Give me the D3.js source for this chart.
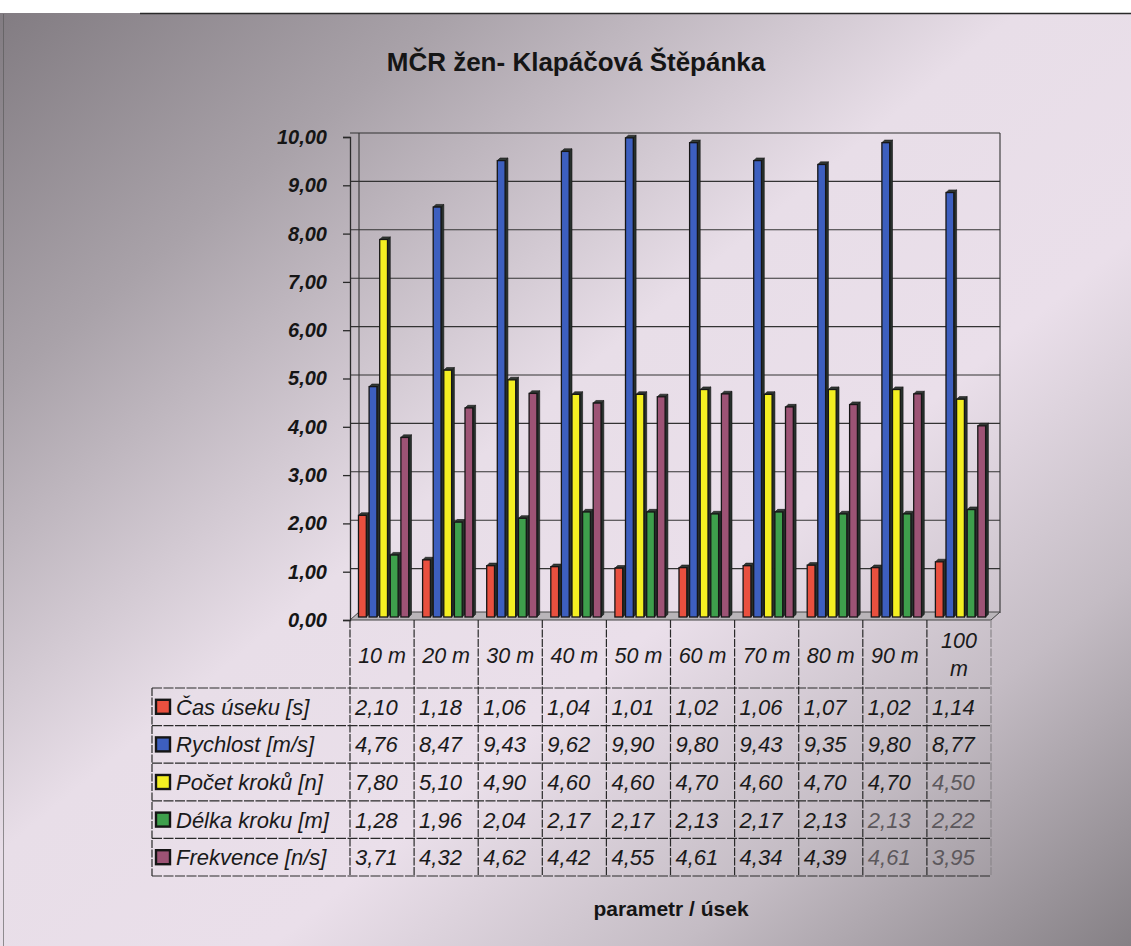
<!DOCTYPE html>
<html>
<head>
<meta charset="utf-8">
<script src="https://cdn.jsdelivr.net/npm/d3@7"></script>
<style>
  html, body { margin: 0; padding: 0; background: #fff; }
  svg { display: block; font-family: "Liberation Sans", Arial, sans-serif; }
</style>
</head>
<body>
<svg id="chart" width="1131" height="946"></svg>
<script>
// Úseky běhu na 100 m
const categories = ["10 m", "20 m", "30 m", "40 m", "50 m", "60 m", "70 m", "80 m", "90 m", "100 m"];
const seriesNames = ["Čas úseku [s]", "Rychlost [m/s]", "Počet kroků [n]", "Délka kroku [m]", "Frekvence [n/s]"];
const casUseku  = [2.10, 1.18, 1.06, 1.04, 1.01, 1.02, 1.06, 1.07, 1.02, 1.14];
const rychlost  = [4.76, 8.47, 9.43, 9.62, 9.90, 9.80, 9.43, 9.35, 9.80, 8.77];
const pocetKroku = [7.80, 5.10, 4.90, 4.60, 4.60, 4.70, 4.60, 4.70, 4.70, 4.50];
const delkaKroku = [1.28, 1.96, 2.04, 2.17, 2.17, 2.13, 2.17, 2.13, 2.13, 2.22];
const frekvence = [3.71, 4.32, 4.62, 4.42, 4.55, 4.61, 4.34, 4.39, 4.61, 3.95];
const yTicks = [0, 1, 2, 3, 4, 5, 6, 7, 8, 9, 10];
const seriesColors = ["#e9503f", "#3d5fbf", "#f4ef22", "#3e9f4c", "#9d5375"];

const seriesValues = [casUseku, rychlost, pocetKroku, delkaKroku, frekvence];
const fmt = v => d3.format(".2f")(v).replace(".", ",");
const FONT = "'Liberation Sans', Arial, sans-serif";

const svg = d3.select("#chart");
const W = 1131, H = 946;

// ---- background ----
const defs = svg.append("defs");
const bg = defs.append("linearGradient").attr("id", "bg")
  .attr("x1", "0").attr("y1", "0").attr("x2", "1").attr("y2", "1");
bg.append("stop").attr("offset", "0").attr("stop-color", "#827c82");
bg.append("stop").attr("offset", "0.2").attr("stop-color", "#a9a2a9");
bg.append("stop").attr("offset", "0.45").attr("stop-color", "#e8dee8");
bg.append("stop").attr("offset", "0.62").attr("stop-color", "#eadfea");
bg.append("stop").attr("offset", "0.8").attr("stop-color", "#c4bcc4");
bg.append("stop").attr("offset", "1").attr("stop-color", "#858085");

svg.append("rect").attr("x", 0).attr("y", 0).attr("width", W).attr("height", H).attr("fill", "#fff");
svg.append("rect").attr("x", 0).attr("y", 13).attr("width", W).attr("height", H - 13).attr("fill", "url(#bg)");
svg.append("line").attr("x1", 140).attr("x2", W).attr("y1", 13.5).attr("y2", 13.5)
  .attr("stroke", "#2a2a2a").attr("stroke-width", 1.5);
svg.append("line").attr("x1", 3.5).attr("x2", 3.5).attr("y1", 14).attr("y2", H)
  .attr("stroke", "#555").attr("stroke-width", 1).attr("opacity", 0.6);

// ---- title ----
svg.append("text").attr("x", 576).attr("y", 71).attr("text-anchor", "middle")
  .attr("font-family", FONT)
  .attr("font-size", 26).attr("font-weight", "bold").attr("fill", "#151515")
  .text("MČR žen- Klapáčová Štěpánka");

// ---- scales ----
const x = d3.scaleBand().domain(categories).range([350, 991]).padding(0);
const xs = d3.scaleBand().domain(d3.range(seriesNames.length)).range([8.5, 61.5]).padding(0);
const y = d3.scaleLinear().domain([0, 10]).range([617, 133]);
const yFront = d3.scaleLinear().domain([0, 10]).range([620, 137]);

const depthX = 9, depthY = 4;   // offset of the back wall
const grid = svg.append("g");

// back wall gridlines and frame
grid.selectAll("line.g").data(yTicks.slice(1)).join("line")
  .attr("x1", 350).attr("x2", 1000)
  .attr("y1", d => y(d)).attr("y2", d => y(d))
  .attr("stroke", "#333").attr("stroke-width", 1.1);
grid.append("line").attr("x1", 1000).attr("x2", 1000).attr("y1", y(10)).attr("y2", y(0) - depthY)
  .attr("stroke", "#333").attr("stroke-width", 1.1);
grid.append("line").attr("x1", 350 + depthX).attr("x2", 350 + depthX).attr("y1", y(10)).attr("y2", y(0) - depthY)
  .attr("stroke", "#333").attr("stroke-width", 1.1);

// floor
grid.append("polygon")
  .attr("points", [[350, 620], [991, 620], [1000, 612], [359, 612]].map(p => p.join(",")).join(" "))
  .attr("fill", "#b9b5b9").attr("stroke", "#444").attr("stroke-width", 1);

// ---- y axis ----
const yAxis = d3.axisLeft(yFront).tickValues(yTicks).tickFormat(fmt).tickSize(7).tickPadding(16);
const ya = svg.append("g").attr("transform", "translate(350,0)").call(yAxis);
ya.select(".domain").attr("stroke", "#2a2a2a").attr("stroke-width", 1.3);
ya.selectAll(".tick line").attr("stroke", "#2a2a2a").attr("stroke-width", 1.3);
ya.selectAll(".tick text").attr("font-size", 20).attr("font-weight", "bold")
  .attr("font-style", "italic").attr("fill", "#151515")
  .attr("font-family", FONT);

// ---- bars ----
const bars = [];
seriesValues.forEach((vals, s) => {
  vals.forEach((v, i) => bars.push({ s, i, v }));
});
const faceW = 7.8, sideW = 2.8, capH = 2.6;
const barG = svg.append("g");
const bar = barG.selectAll("g.bar").data(bars).join("g").attr("class", "bar");
const bx = d => x(categories[d.i]) + xs(d.s);
bar.append("polygon") // dark side face
  .attr("points", d => {
    const x0 = bx(d) + faceW, yt = y(d.v), yb = y(0);
    return [[x0, yt], [x0 + sideW, yt - capH], [x0 + sideW, yb - capH], [x0, yb]].map(p => p.join(",")).join(" ");
  })
  .attr("fill", "#27302c").attr("stroke", "#151515").attr("stroke-width", 0.6);
bar.append("polygon") // top cap
  .attr("points", d => {
    const x0 = bx(d), yt = y(d.v);
    return [[x0, yt], [x0 + sideW, yt - capH], [x0 + faceW + sideW, yt - capH], [x0 + faceW, yt]].map(p => p.join(",")).join(" ");
  })
  .attr("fill", "#333a36").attr("stroke", "#151515").attr("stroke-width", 0.6);
bar.append("rect") // front face
  .attr("x", d => bx(d)).attr("y", d => y(d.v))
  .attr("width", faceW).attr("height", d => y(0) - y(d.v))
  .attr("fill", d => seriesColors[d.s]).attr("stroke", "#161616").attr("stroke-width", 1.3);

// ---- data table ----
const rowTop = 688, rowH = 37.6, headTop = 620, tableLeft = 152;
const tbl = svg.append("g");
const lineCol = "#2a2a2a";
// vertical lines
tbl.selectAll("line.v").data(d3.range(categories.length + 1)).join("line")
  .attr("x1", i => i < categories.length ? x(categories[i]) : 991)
  .attr("x2", i => i < categories.length ? x(categories[i]) : 991)
  .attr("y1", headTop).attr("y2", rowTop + rowH * seriesNames.length)
  .attr("stroke", i => i === categories.length ? "#8a868a" : lineCol)
  .attr("stroke-width", 1.2).attr("stroke-dasharray", "8 1.5");
tbl.append("line").attr("x1", tableLeft).attr("x2", tableLeft)
  .attr("y1", rowTop).attr("y2", rowTop + rowH * seriesNames.length)
  .attr("stroke", lineCol).attr("stroke-width", 1.2).attr("stroke-dasharray", "8 1.5");
// horizontal lines
tbl.selectAll("line.h").data(d3.range(seriesNames.length + 1)).join("line")
  .attr("x1", tableLeft).attr("x2", 991)
  .attr("y1", k => rowTop + k * rowH).attr("y2", k => rowTop + k * rowH)
  .attr("stroke", lineCol).attr("stroke-width", 1.2).attr("stroke-dasharray", "10 1.5");

// header labels
const head = tbl.selectAll("text.head").data(categories).join("text")
  .attr("class", "head")
  .attr("x", d => x(d) + x.bandwidth() / 2)
  .attr("font-family", FONT)
  .attr("text-anchor", "middle").attr("font-size", 21.5).attr("font-style", "italic").attr("fill", "#1a1a1a");
head.each(function (d) {
  const t = d3.select(this);
  const parts = d.split(" ");
  if (d.length > 4) {
    t.append("tspan").attr("x", x(d) + x.bandwidth() / 2).attr("y", 648).text(parts[0]);
    t.append("tspan").attr("x", x(d) + x.bandwidth() / 2).attr("y", 676).text(parts[1]);
  } else {
    t.attr("y", 663).text(d);
  }
});

// series label column with legend keys
const rows = tbl.selectAll("g.row").data(seriesNames).join("g").attr("class", "row")
  .attr("transform", (d, k) => `translate(0,${rowTop + k * rowH})`);
rows.append("rect").attr("x", 156).attr("y", rowH / 2 - 7).attr("width", 14).attr("height", 14)
  .attr("fill", (d, k) => seriesColors[k]).attr("stroke", "#151515").attr("stroke-width", 2.4);
rows.append("text").attr("x", 176).attr("y", rowH / 2 + 8)
  .attr("font-family", FONT)
  .attr("font-size", 22).attr("font-style", "italic").attr("fill", "#1a1a1a").text(d => d);

// values
const fadedCells = new Set(["2-9", "3-8", "3-9", "4-8", "4-9"]);
rows.each(function (name, k) {
  d3.select(this).selectAll("text.val").data(seriesValues[k]).join("text")
    .attr("class", "val")
    .attr("x", (v, i) => x(categories[i]) + 5)
    .attr("y", rowH / 2 + 8)
    .attr("font-family", FONT)
    .attr("font-size", 22).attr("font-style", "italic")
    .attr("fill", (v, i) => fadedCells.has(`${k}-${i}`) ? "#5c585c" : "#1a1a1a")
    .text(fmt);
});

// ---- axis title ----
svg.append("text").attr("x", 671).attr("y", 916).attr("text-anchor", "middle")
  .attr("font-family", FONT)
  .attr("font-size", 21).attr("font-weight", "bold").attr("fill", "#151515")
  .text("parametr / úsek");
</script>
</body>
</html>
